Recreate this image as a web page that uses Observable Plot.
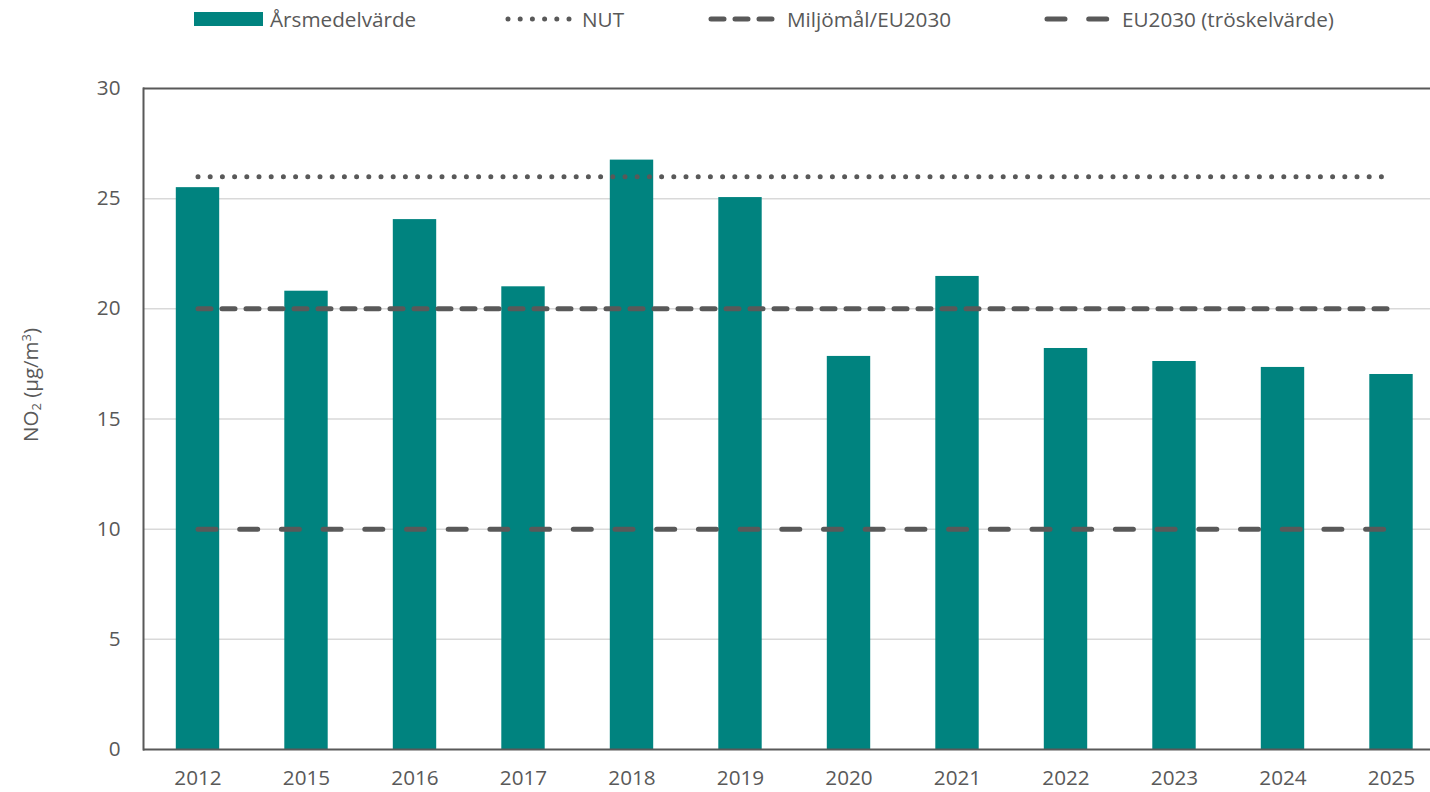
<!DOCTYPE html>
<html><head><meta charset="utf-8">
<script src="https://cdn.jsdelivr.net/npm/d3@7"></script>
<script src="https://cdn.jsdelivr.net/npm/@observablehq/plot@0.6"></script>
<style>
body{margin:0;background:#fff;font-family:"Open Sans",sans-serif;color:#595959}
#wrap{position:relative;width:1430px;height:792px;overflow:hidden}
#legend{position:relative;height:50px}
.item{position:absolute;top:0;height:38px;display:flex;align-items:center;font-size:20.7px;white-space:nowrap}
.item svg{display:block}
#ylabel{position:absolute;left:30px;top:385px;transform:translate(-50%,-50%) rotate(-90deg);font-size:20.5px;white-space:nowrap;color:#595959}
#ylabel sub,#ylabel sup{font-size:13px}
#ylabel sub{vertical-align:-3px}
#ylabel sup{vertical-align:7px}
</style>
</head><body>
<div id="wrap">
<div id="legend"></div>
<div id="chart"></div>
<div id="ylabel">NO<sub>2</sub> (µg/m<sup>3</sup>)</div>
</div>
<script>
const years = ["2012","2015","2016","2017","2018","2019","2020","2021","2022","2023","2024","2025"];
const values = [25.5, 20.8, 24.05, 21.0, 26.75, 25.05, 17.84, 21.47, 18.2, 17.61, 17.34, 17.02];
const nut = 26;
const miljomal = 20;
const eu2030 = 10;
const yTicks = [0, 5, 10, 15, 20, 25, 30];
const seriesLabels = ["Årsmedelvärde", "NUT", "Miljömål/EU2030", "EU2030 (tröskelvärde)"];

const teal = "#00837f";
const grey = "#595959";
const styles = [
  {type:"rect"},
  {dash:"0 12.2", width:5},
  {dash:"13 11", width:5},
  {dash:"18 23.7", width:5}
];
const legendPos = [194, 505, 708, 1044];
const textPos = [270, 582, 787, 1122];

const legend = document.getElementById("legend");
seriesLabels.forEach((lab, i) => {
  const it = document.createElement("div");
  it.className = "item";
  it.style.left = legendPos[i] + "px";
  const sw = 69;
  let svg;
  if (styles[i].type === "rect") {
    svg = `<svg width="${sw}" height="38"><rect x="0" y="12" width="${sw}" height="14" fill="${teal}"/></svg>`;
  } else {
    svg = `<svg width="${sw}" height="38"><line x1="3" x2="${sw-3}" y1="19" y2="19" stroke="${grey}" stroke-width="${styles[i].width}" stroke-linecap="round" stroke-dasharray="${styles[i].dash}"/></svg>`;
  }
  it.innerHTML = svg + `<span style="margin-left:${textPos[i]-legendPos[i]-sw}px">${lab}</span>`;
  legend.appendChild(it);
});

const rows = years.map((year, i) => ({year, value: values[i]}));

const chart = Plot.plot({
  width: 1430,
  height: 742,
  marginTop: 38,
  marginBottom: 43,
  marginLeft: 143,
  marginRight: 0,
  style: {fontFamily: "'Open Sans', sans-serif", fontSize: "20.7px", color: grey, background: "white", overflow: "visible"},
  x: {domain: years, range: [143.25, 1445.25], paddingInner: 0.6, paddingOuter: 0.3, round: false, label: null},
  y: {domain: [0, 30], label: null},
  marks: [
    Plot.ruleY(yTicks.filter(t => t > 0 && t < 30), {stroke: "#d9d9d9", strokeWidth: 1.5}),
    Plot.barY(rows, {x: "year", y: "value", fill: teal}),
    Plot.lineY(years, {x: d => d, y: () => nut, stroke: grey, strokeWidth: 5, strokeDasharray: "0 12.2", strokeLinecap: "round"}),
    Plot.lineY(years, {x: d => d, y: () => miljomal, stroke: grey, strokeWidth: 5, strokeDasharray: "13 11", strokeLinecap: "round"}),
    Plot.lineY(years, {x: d => d, y: () => eu2030, stroke: grey, strokeWidth: 5, strokeDasharray: "18 23.7", strokeLinecap: "round"}),
    Plot.ruleY([0, 30], {stroke: grey, strokeWidth: 2}),
    Plot.frame({anchor: "left", stroke: grey, strokeWidth: 2}),
    Plot.axisX({tickSize: 0, tickPadding: 21, label: null}),
    Plot.axisY({ticks: yTicks, tickSize: 0, tickPadding: 23, label: null})
  ]
});
document.getElementById("chart").appendChild(chart);
</script>
</body></html>
